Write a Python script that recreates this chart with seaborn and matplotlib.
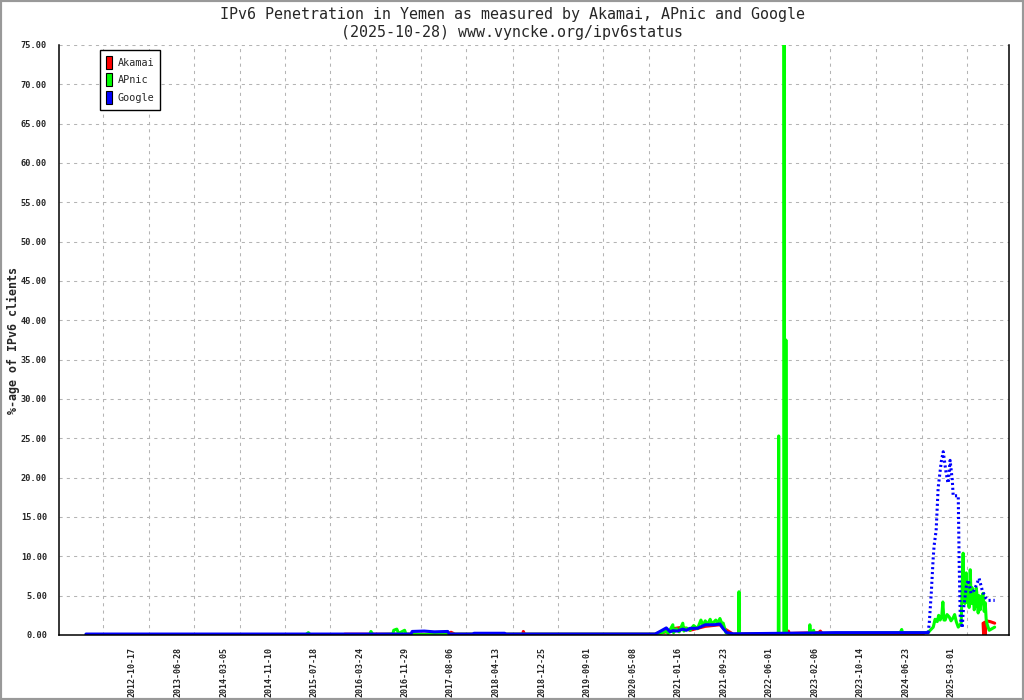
import pandas as pd
import numpy as np
import matplotlib
matplotlib.use('Agg')  # no display
import matplotlib.pyplot as plt
import matplotlib.dates as mdates
import matplotlib.patches as mpatches
from matplotlib.ticker import FixedLocator, FuncFormatter
import seaborn as sns

# ---- data ----
akamai_dates = ['2016-01-01', '2017-07-23', '2017-08-10', '2017-09-01', '2018-09-10', '2018-09-13',
                '2018-09-20', '2020-09-09', '2020-11-10', '2020-12-16', '2021-02-09', '2021-03-21',
                '2021-06-13', '2021-09-02', '2021-09-20', '2021-11-14', '2022-09-10', '2022-09-15',
                '2022-09-20', '2023-03-01', '2023-03-10', '2023-03-20', '2024-10-01']
akamai_vals = [0.1, 0.1, 0.35, 0.1, 0.1, 0.45,
               0.1, 0.1, 0.4, 0.8, 1.0, 0.6,
               1.1, 1.3, 0.9, 0.1, 0.2, 0.5,
               0.2, 0.3, 0.5, 0.2, 0.2]
# Akamai comes back only at the very end
akamai_end_dates = ['2025-08-24', '2025-08-27', '2025-09-01', '2025-09-05', '2025-09-10',
                    '2025-10-02', '2025-10-27']
akamai_end_vals = [1.5, 0.0, 1.6, 0.0, 1.8, 1.7, 1.5]

apnic_dates = ['2012-02-04', '2015-06-01', '2015-06-15', '2015-06-25', '2016-05-18', '2016-05-25',
               '2016-06-05', '2016-09-23', '2016-09-28', '2016-10-15', '2016-10-25', '2016-11-27',
               '2016-12-05', '2017-01-08', '2017-07-23', '2017-08-01', '2018-06-01', '2020-09-09',
               '2020-10-20', '2020-11-10', '2020-11-20', '2020-12-16', '2020-12-20', '2021-01-05',
               '2021-01-20', '2021-02-09', '2021-02-15', '2021-03-01', '2021-03-21', '2021-04-10',
               '2021-05-01', '2021-05-20', '2021-06-01', '2021-06-13', '2021-06-25', '2021-07-10',
               '2021-07-20', '2021-08-10', '2021-08-20', '2021-09-02', '2021-09-10', '2021-09-20',
               '2021-10-05', '2021-11-10', '2021-12-14', '2021-12-16', '2021-12-18', '2022-07-21',
               '2022-07-23', '2022-07-25', '2022-08-21', '2022-08-22', '2022-08-24', '2022-08-31',
               '2022-09-01', '2022-09-03', '2023-01-09', '2023-01-11', '2023-01-14', '2023-02-01',
               '2023-02-05', '2024-05-24', '2024-06-01', '2024-06-05', '2024-10-25', '2024-11-05',
               '2024-11-22', '2024-12-02', '2024-12-14', '2024-12-22', '2024-12-30', '2025-01-08',
               '2025-01-14', '2025-01-20', '2025-01-27', '2025-02-06', '2025-02-18', '2025-02-28',
               '2025-03-12', '2025-03-20', '2025-03-29', '2025-04-09', '2025-04-25', '2025-05-06',
               '2025-05-09', '2025-05-12', '2025-05-16', '2025-05-23', '2025-05-28', '2025-06-03',
               '2025-06-08', '2025-06-14', '2025-06-20', '2025-06-25', '2025-07-01', '2025-07-06',
               '2025-07-12', '2025-07-17', '2025-07-23', '2025-07-28', '2025-08-02', '2025-08-08',
               '2025-08-14', '2025-08-24', '2025-08-30', '2025-09-05', '2025-09-10', '2025-09-16',
               '2025-09-27', '2025-10-27']
apnic_vals = [0.05, 0.05, 0.3, 0.05, 0.05, 0.45,
              0.05, 0.1, 0.6, 0.75, 0.2, 0.6,
              0.1, 0.05, 0.05, 0.1, 0.1, 0.1,
              0.3, 0.5, 0.2, 1.3, 0.3, 0.8,
              0.4, 1.5, 0.5, 0.9, 0.6, 1.2,
              0.8, 1.9, 1.2, 1.8, 1.3, 2.0,
              1.4, 1.9, 1.5, 2.1, 1.6, 1.5,
              0.3, 0.05, 0.1, 5.5, 0.1, 0.15,
              25.3, 0.15, 0.15, 75.0, 0.15, 0.15,
              37.5, 0.15, 0.2, 1.3, 0.2, 0.6,
              0.2, 0.3, 0.7, 0.3, 0.3, 0.6,
              1.0, 2.0, 1.7, 2.5, 1.9, 2.4,
              4.2, 1.9, 1.9, 2.6, 2.3, 1.8,
              2.2, 2.6, 1.7, 1.0, 1.5, 10.4,
              5.0, 6.1, 4.0, 7.9, 4.2, 4.5,
              3.5, 8.3, 4.0, 6.0, 4.8, 3.2,
              3.8, 6.0, 4.8, 2.8, 5.0, 3.2,
              4.6, 5.3, 3.0, 4.1, 2.0, 1.3,
              0.6, 1.0]

google_dates = ['2012-02-04', '2016-01-29', '2017-01-01', '2017-01-08', '2017-03-15', '2017-05-10',
                '2017-07-23', '2017-08-01', '2017-12-09', '2017-12-15', '2018-06-02', '2018-06-10',
                '2020-09-09', '2020-10-10', '2020-11-10', '2020-12-01', '2020-12-16', '2021-01-10',
                '2021-02-09', '2021-03-01', '2021-03-21', '2021-05-01', '2021-06-13', '2021-08-01',
                '2021-09-02', '2021-09-20', '2021-10-10', '2021-11-14', '2022-06-01', '2023-01-01',
                '2023-06-01', '2024-01-01', '2024-10-25']
google_vals = [0.12, 0.12, 0.12, 0.45, 0.5, 0.4,
               0.45, 0.12, 0.12, 0.22, 0.22, 0.12,
               0.12, 0.5, 0.9, 0.4, 0.55, 0.5,
               0.75, 0.6, 0.85, 0.85, 1.3, 1.3,
               1.4, 0.8, 0.3, 0.15, 0.2, 0.25,
               0.3, 0.3, 0.3]
# the late Google part is drawn dotted
google_late_dates = ['2024-10-25', '2024-10-31', '2024-11-11', '2024-11-22', '2024-11-27', '2024-12-08',
                     '2024-12-19', '2025-01-05', '2025-01-16', '2025-02-01', '2025-02-12', '2025-02-23',
                     '2025-03-07', '2025-03-12', '2025-04-09', '2025-04-14', '2025-04-20', '2025-05-01',
                     '2025-05-06', '2025-05-23', '2025-06-03', '2025-06-19', '2025-07-06', '2025-08-02',
                     '2025-08-19', '2025-09-05', '2025-09-21', '2025-10-27']
google_late_vals = [0.3, 1.5, 5.3, 9.9, 11.4, 13.3,
                    18.7, 22.0, 23.3, 20.6, 19.3, 22.2,
                    19.7, 17.7, 17.7, 9.2, 2.3, 0.9,
                    2.9, 6.1, 7.0, 5.3, 5.7, 7.2,
                    5.7, 4.8, 4.4, 4.4]

label_dates = ['2012-10-17', '2013-06-28', '2014-03-05', '2014-11-10', '2015-07-18', '2016-03-24',
               '2016-11-29', '2017-08-06', '2018-04-13', '2018-12-25', '2019-09-01', '2020-05-08',
               '2021-01-16', '2021-09-23', '2022-06-01', '2023-02-06', '2023-10-14', '2024-06-23',
               '2025-03-01']

series_names = ['Akamai', 'APnic', 'Google']
series_colors = ['#ff0000', '#00ff00', '#0000ff']

title_line1 = 'IPv6 Penetration in Yemen as measured by Akamai, APnic and Google'
title_line2 = '(2025-10-28) www.vyncke.org/ipv6status'

# ---- styling ----
sns.set_style('white')
plt.rcParams['font.family'] = ['DejaVu Sans Mono', 'DejaVu Sans']

fig = plt.figure(figsize=(10.24, 7.0), dpi=100)
ax = fig.add_axes([59 / 1024, 1 - 635 / 700, 950 / 1024, 590 / 700])


def frame(dates, vals):
    return pd.DataFrame({'date': pd.to_datetime(dates), 'pct': vals})


lw = 2.2
sns.lineplot(data=frame(akamai_dates, akamai_vals), x='date', y='pct', ax=ax,
             color=series_colors[0], linewidth=lw, estimator=None, sort=False)
sns.lineplot(data=frame(akamai_end_dates, akamai_end_vals), x='date', y='pct', ax=ax,
             color=series_colors[0], linewidth=lw, estimator=None, sort=False)
sns.lineplot(data=frame(apnic_dates, apnic_vals), x='date', y='pct', ax=ax,
             color=series_colors[1], linewidth=lw, estimator=None, sort=False)
sns.lineplot(data=frame(google_dates, google_vals), x='date', y='pct', ax=ax,
             color=series_colors[2], linewidth=lw, estimator=None, sort=False)
sns.lineplot(data=frame(google_late_dates, google_late_vals), x='date', y='pct', ax=ax,
             color=series_colors[2], linewidth=lw, linestyle=(0, (0.7, 0.9)),
             estimator=None, sort=False)

# axes limits
ax.set_xlim(pd.Timestamp('2011-09-08'), pd.Timestamp('2026-01-14'))
ax.set_ylim(0, 75)

# x ticks: labels at the dates, tick marks/grid offset like the original
lab = pd.to_datetime(label_dates)
grid_pos = list(lab - pd.Timedelta(days=162)) + [lab[-1] + pd.Timedelta(days=89)]
ax.xaxis.set_major_locator(FixedLocator(mdates.date2num(lab)))
ax.xaxis.set_major_formatter(mdates.DateFormatter('%Y-%m-%d'))
ax.xaxis.set_minor_locator(FixedLocator(mdates.date2num(grid_pos)))
ax.tick_params(axis='x', which='major', length=0, pad=8.5, labelsize=6, labelrotation=90)
ax.tick_params(axis='x', which='minor', direction='inout', length=6, width=1.1, color='black')

ax.set_yticks(np.arange(0, 76, 5))
ax.yaxis.set_major_formatter(FuncFormatter(lambda v, p: f'{v:.2f}'))
ax.tick_params(axis='y', direction='inout', length=7.2, width=1.1, color='black',
               labelsize=6.2, pad=5)
for t in ax.get_xticklabels() + ax.get_yticklabels():
    t.set_fontweight('bold')

ax.set_xlabel('')
ax.set_ylabel('')

# grid
ax.set_axisbelow(True)
ax.grid(axis='y', which='major', color='#b4b4b4', linestyle=(0, (3, 4)), linewidth=0.75)
ax.grid(axis='x', which='minor', color='#b4b4b4', linestyle=(0, (3, 4)), linewidth=0.75)
ax.grid(axis='x', which='major', visible=False)

for side in ['left', 'bottom', 'right']:
    ax.spines[side].set_color('black')
    ax.spines[side].set_linewidth(1.1)
ax.spines['top'].set_visible(False)

# legend
handles = [mpatches.Patch(facecolor=c, edgecolor='black', linewidth=0.8, label=n)
           for n, c in zip(series_names, series_colors)]
leg = ax.legend(handles=handles, loc='upper left', bbox_to_anchor=(0.043, 0.992),
                borderaxespad=0, fontsize=7.3, handlelength=0.6, handleheight=1.6,
                handletextpad=0.55, borderpad=0.6, labelspacing=0.45,
                fancybox=False, framealpha=1, edgecolor='black')
leg.get_frame().set_linewidth(1.0)

# titles and y label
fig.text(0.5, 1 - 14 / 700, title_line1, ha='center', va='center', fontsize=10.8)
fig.text(0.5, 1 - 32 / 700, title_line2, ha='center', va='center', fontsize=10.8)
fig.text(13 / 1024, 1 - 340 / 700, '%-age of IPv6 clients', rotation=90,
         ha='center', va='center', fontsize=8.4, fontweight='bold')

# grey frame around the picture
fig.patches.append(mpatches.Rectangle((0, 0), 1, 1, transform=fig.transFigure, fill=False,
                                      edgecolor='#999999', linewidth=3))

plt.savefig('out.png', dpi=100)
plt.close('all')
